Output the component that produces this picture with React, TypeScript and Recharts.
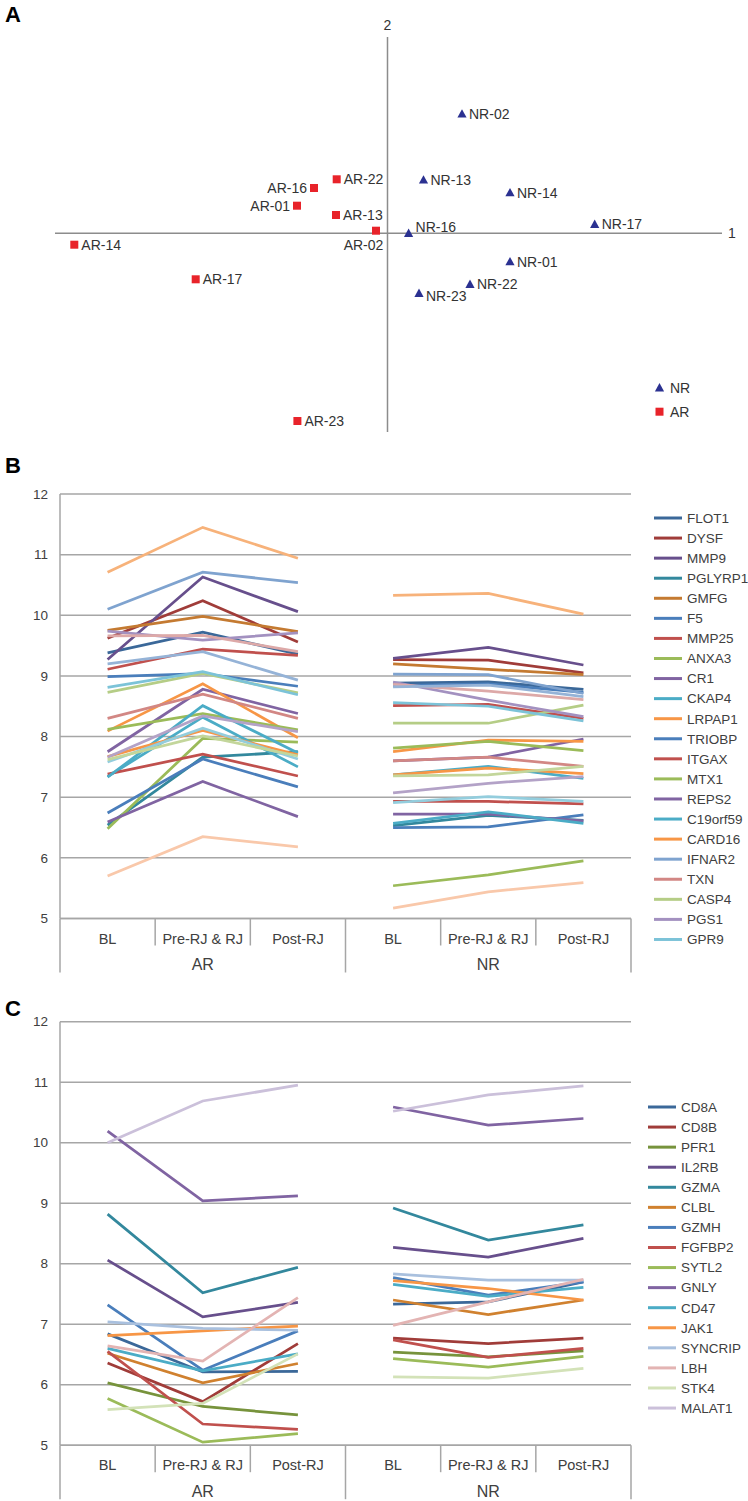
import React from 'react';
import {
  ScatterChart, Scatter, XAxis, YAxis, ReferenceLine, Legend,
  LineChart, Line, CartesianGrid,
} from 'recharts';

const FONT = '"Liberation Sans", Arial, Helvetica, sans-serif';

// ---------- Panel A data (PCA-like scores, dimension 1 / dimension 2) ----------
const nrNames = ['NR-02', 'NR-13', 'NR-14', 'NR-17', 'NR-16', 'NR-01', 'NR-22', 'NR-23'];
const nrDim1 = [0.745, 0.36, 1.225, 2.072, 0.211, 1.225, 0.825, 0.315];
const nrDim2 = [1.193, 0.533, 0.406, 0.09, 0.0, -0.284, -0.51, -0.6];
const arNames = ['AR-22', 'AR-16', 'AR-01', 'AR-13', 'AR-02', 'AR-14', 'AR-17', 'AR-23'];
const arDim1 = [-0.508, -0.735, -0.905, -0.515, -0.115, -3.132, -1.918, -0.901];
const arDim2 = [0.54, 0.453, 0.276, 0.183, 0.026, -0.114, -0.46, -1.877];

// ---------- Panels B & C shared categories ----------
const timeLabels = ['BL', 'Pre-RJ & RJ', 'Post-RJ'];
const groupLabels = ['AR', 'NR'];
const yTicks = [5, 6, 7, 8, 9, 10, 11, 12];

// ---------- Panel B data ----------
const bGenes = ['FLOT1', 'DYSF', 'MMP9', 'PGLYRP1', 'GMFG', 'F5', 'MMP25', 'ANXA3', 'CR1', 'CKAP4', 'LRPAP1',
  'TRIOBP', 'ITGAX', 'MTX1', 'REPS2', 'C19orf59', 'CARD16', 'IFNAR2', 'TXN', 'CASP4', 'PGS1', 'GPR9'];
const bExtra = ['S23', 'S24', 'S25', 'S26', 'S27', 'S28', 'S29'];
const bAR = [
  [9.38, 9.72, 9.36], [9.62, 10.24, 9.56], [9.27, 10.63, 10.06], [6.54, 7.66, 7.75], [9.75, 9.98, 9.73],
  [8.99, 9.04, 8.83], [9.11, 9.44, 9.34], [6.48, 7.97, 7.91], [7.75, 8.78, 8.38], [7.34, 8.32, 7.5],
  [8.09, 8.87, 7.98], [6.74, 7.63, 7.17], [7.38, 7.71, 7.35], [8.12, 8.38, 8.11], [6.59, 7.26, 6.68],
  [7.33, 8.51, 7.73], [7.67, 8.1, 7.7], [10.1, 10.71, 10.54], [8.3, 8.7, 8.3], [8.73, 9.04, 8.72],
  [9.74, 9.59, 9.71], [8.81, 9.07, 8.69],
];
const bNR = [
  [8.88, 8.9, 8.78], [9.27, 9.26, 9.05], [9.29, 9.47, 9.18], [6.53, 6.7, 6.62], [9.2, 9.11, 9.02],
  [8.84, 8.87, 8.73], [8.51, 8.53, 8.3], [5.54, 5.72, 5.95], [7.6, 7.66, 7.96], [7.37, 7.51, 7.31],
  [7.75, 7.94, 7.92], [6.5, 6.51, 6.71], [6.93, 6.93, 6.89], [7.81, 7.92, 7.77], [6.72, 6.72, 6.61],
  [6.57, 6.76, 6.57], [7.37, 7.48, 7.39], [9.03, 9.02, 8.71], [7.6, 7.66, 7.51], [8.22, 8.22, 8.52],
  [8.9, 8.6, 8.33], [8.56, 8.5, 8.26],
];
const bExtraAR = [
  [10.71, 11.45, 10.94], [9.66, 9.67, 9.4], [9.2, 9.4, 8.93], [7.66, 8.34, 8.08],
  [7.58, 8.14, 7.63], [7.62, 8.01, 7.68], [5.7, 6.35, 6.18],
];
const bExtraNR = [
  [10.33, 10.36, 10.02], [8.86, 8.75, 8.61], [8.82, 8.85, 8.66], [7.07, 7.23, 7.34],
  [6.91, 7.01, 6.93], [7.35, 7.37, 7.51], [5.17, 5.44, 5.59],
];

// ---------- Panel C data ----------
const cGenes = ['CD8A', 'CD8B', 'PFR1', 'IL2RB', 'GZMA', 'CLBL', 'GZMH', 'FGFBP2', 'SYTL2', 'GNLY', 'CD47',
  'JAK1', 'SYNCRIP', 'LBH', 'STK4', 'MALAT1'];
const cAR = [
  [6.84, 6.21, 6.22], [6.36, 5.72, 6.68], [6.03, 5.64, 5.5], [8.06, 7.12, 7.36], [8.82, 7.52, 7.94],
  [6.52, 6.03, 6.35], [7.32, 6.24, 6.89], [6.55, 5.35, 5.26], [5.77, 5.05, 5.19], [10.19, 9.04, 9.12],
  [6.6, 6.23, 6.51], [6.81, 6.89, 6.97], [7.04, 6.93, 6.9], [6.64, 6.39, 7.44], [5.59, 5.69, 6.51],
  [10.0, 10.69, 10.95],
];
const cNR = [
  [7.33, 7.37, 7.7], [6.77, 6.68, 6.77], [6.54, 6.46, 6.56], [8.27, 8.11, 8.42], [8.92, 8.39, 8.64],
  [7.4, 7.16, 7.4], [7.77, 7.48, 7.7], [6.74, 6.45, 6.6], [6.43, 6.29, 6.47], [10.59, 10.29, 10.4],
  [7.66, 7.46, 7.61], [7.72, 7.59, 7.4], [7.83, 7.73, 7.73], [6.98, 7.37, 7.74], [6.13, 6.11, 6.27],
  [10.52, 10.79, 10.94],
];

// ---------- styles ----------
const bColors = ['#3B6899', '#A03C39', '#674F8C', '#33889D', '#C47A31', '#4A7EBB', '#C0504D', '#9BBB59',
  '#8064A2', '#4BACC6', '#F79646', '#4A7EBB', '#C0504D', '#9BBB59', '#8064A2', '#4BACC6', '#F79646',
  '#7FA3CF', '#D28784', '#B5CD86', '#A391C0', '#7CC3D8'];
const bExtraColors = ['#F7B27A', '#DDA9A8', '#95B3D7', '#B3A2C7', '#93CDDD', '#C3D69B', '#F9C8AA'];
const cColors = ['#3B6899', '#A03C39', '#77933C', '#674F8C', '#33889D', '#D0812F', '#4A7EBB', '#C0504D',
  '#9BBB59', '#8064A2', '#4BACC6', '#F79646', '#A9C0DE', '#E3B4B3', '#D3E2B8', '#CBC0DA'];

const GRID = '#A6A6A6';
const TEXT = '#404040';
const labelLeft = ['AR-16', 'AR-01'];
const labelBelow = ['AR-02'];
const labelShiftY: Record<string, number> = { 'NR-16': -6, 'NR-23': 3 };

function buildRows(ar: number[][], nr: number[][], names: string[]) {
  const rows: any[] = [];
  for (let i = 0; i < 6; i++) {
    const row: any = { x: i };
    names.forEach((n, k) => {
      row[n + '|AR'] = i < 3 ? ar[k][i] : null;
      row[n + '|NR'] = i >= 3 ? nr[k][i - 3] : null;
    });
    rows.push(row);
  }
  return rows;
}

const PointLabel = ({ cx, cy, name }: { cx: number; cy: number; name: string }) => {
  const style = { fontSize: 14, fill: '#333', fontFamily: FONT };
  if (labelLeft.includes(name)) {
    return <text x={cx - 7} y={cy} dy="0.36em" textAnchor="end" style={style}>{name}</text>;
  }
  if (labelBelow.includes(name)) {
    return <text x={cx - 12.5} y={cy + 14} dy="0.36em" textAnchor="middle" style={style}>{name}</text>;
  }
  return <text x={cx + 7} y={cy + (labelShiftY[name] || 0)} dy="0.36em" textAnchor="start" style={style}>{name}</text>;
};

const SquareShape = (props: any) => {
  const { cx, cy, payload } = props;
  return (
    <g>
      <rect x={cx - 4} y={cy - 4} width={8} height={8} fill="#E8232A" />
      <PointLabel cx={cx} cy={cy} name={payload.name} />
    </g>
  );
};
const TriangleShape = (props: any) => {
  const { cx, cy, payload } = props;
  return (
    <g>
      <polygon points={`${cx},${cy - 4.8} ${cx + 4.6},${cy + 3.6} ${cx - 4.6},${cy + 3.6}`} fill="#2B3191" />
      <PointLabel cx={cx} cy={cy} name={payload.name} />
    </g>
  );
};

const PanelA = () => {
  const nrData = nrNames.map((n, i) => ({ name: n, x: nrDim1[i], y: nrDim2[i] }));
  const arData = arNames.map((n, i) => ({ name: n, x: arDim1[i], y: arDim2[i] }));
  return (
    <ScatterChart width={748} height={460} margin={{ top: 37, right: 26, bottom: 28, left: 55 }}>
      <XAxis type="number" dataKey="x" domain={[-3.325, 3.345]} hide />
      <YAxis type="number" dataKey="y" domain={[-1.987, 1.963]} hide />
      <ReferenceLine y={0} stroke="#8C8C8C" strokeWidth={1.5}
        label={{ value: '1', position: 'right', offset: 6, fill: '#333', fontSize: 14, fontFamily: FONT }} />
      <ReferenceLine x={0} stroke="#8C8C8C" strokeWidth={1.5}
        label={{ value: '2', position: 'top', offset: 7, fill: '#333', fontSize: 14, fontFamily: FONT }} />
      <Scatter name="NR" data={nrData} shape={<TriangleShape />} isAnimationActive={false} />
      <Scatter name="AR" data={arData} shape={<SquareShape />} isAnimationActive={false} />
      <Legend layout="vertical" align="center" verticalAlign="middle"
        wrapperStyle={{ left: 650, top: 378, width: 60, height: 44 }}
        content={() => (
          <svg width={60} height={44} style={{ display: 'block' }}>
            <polygon points="9.5,5 14.1,13.4 4.9,13.4" fill="#2B3191" />
            <text x={20} y={9.7} dy="0.36em" style={{ fontSize: 14, fill: '#333', fontFamily: FONT }}>NR</text>
            <rect x={5.5} y={29.7} width={8} height={8} fill="#E8232A" />
            <text x={20} y={33.7} dy="0.36em" style={{ fontSize: 14, fill: '#333', fontFamily: FONT }}>AR</text>
          </svg>
        )} />
    </ScatterChart>
  );
};

const makeCatTick = (bw: number) => (props: any) => {
  const { x, y, payload } = props;
  const i = Number(payload.value);
  const stroke = { stroke: GRID, strokeWidth: 1.5 };
  const lines: any[] = [];
  const leftLen = i % 3 === 0 ? 54 : 27;
  lines.push(<line key="l" x1={x - bw / 2} x2={x - bw / 2} y1={y} y2={y + leftLen} {...stroke} />);
  if (i === 5) lines.push(<line key="r" x1={x + bw / 2} x2={x + bw / 2} y1={y} y2={y + 54} {...stroke} />);
  return (
    <g>
      {lines}
      <text x={x} y={y + 20} dy="0.36em" textAnchor="middle" style={{ fontSize: 14.5, fill: TEXT, fontFamily: FONT }}>
        {timeLabels[i % 3]}
      </text>
      {i % 3 === 1 && (
        <text x={x} y={y + 46} dy="0.36em" textAnchor="middle" style={{ fontSize: 16, fill: TEXT, fontFamily: FONT }}>
          {groupLabels[Math.floor(i / 3)]}
        </text>
      )}
    </g>
  );
};

type LegendItem = { name: string; color: string };

const GeneLegend = ({ items, fontSize, step }: { items: LegendItem[]; fontSize: number; step: number }) => (
  <svg width={100} height={items.length * step + 4} style={{ display: 'block' }}>
    {items.map((it, i) => {
      const cy = 10 + i * step;
      return (
        <g key={it.name}>
          <line x1={0} x2={28} y1={cy} y2={cy} stroke={it.color} strokeWidth={3} />
          <text x={33} y={cy} dy="0.36em" style={{ fontSize, fill: TEXT, fontFamily: FONT }}>{it.name}</text>
        </g>
      );
    })}
  </svg>
);

const GenePanel = ({ names, colors, ar, nr, legendNames, height, marginTop, marginBottom, xHeight, legendLeft, legendTop, legendFont, legendStep }: any) => {
  const rows = buildRows(ar, nr, names);
  const plotLeft = 60;
  const plotRight = 631;
  const bw = (plotRight - plotLeft) / 6;
  const items: LegendItem[] = legendNames.map((n: string) => ({ name: n, color: colors[names.indexOf(n)] }));
  return (
    <LineChart width={748} height={height} data={rows}
      margin={{ top: marginTop, right: 748 - plotRight, bottom: marginBottom, left: 0 }}>
      <CartesianGrid horizontal vertical={false} stroke={GRID} strokeWidth={1.5} />
      <XAxis type="number" dataKey="x" domain={[-0.5, 5.5]} ticks={[0, 1, 2, 3, 4, 5]} interval={0}
        tickSize={0} tickMargin={0} tickLine={false} axisLine={{ stroke: GRID, strokeWidth: 1.5 }}
        height={xHeight} tick={makeCatTick(bw)} allowDataOverflow />
      <YAxis type="number" domain={[5, 12]} ticks={yTicks} interval={0} width={plotLeft}
        tickSize={0} tickMargin={12} tickLine={false} axisLine={{ stroke: GRID, strokeWidth: 1.5 }}
        tick={{ fontSize: 13.5, fill: TEXT, fontFamily: FONT }} allowDataOverflow />
      {names.map((n: string, k: number) => (
        <Line key={n + 'a'} dataKey={n + '|AR'} stroke={colors[k]} strokeWidth={2.75} dot={false}
          connectNulls={false} isAnimationActive={false} />
      ))}
      {names.map((n: string, k: number) => (
        <Line key={n + 'n'} dataKey={n + '|NR'} stroke={colors[k]} strokeWidth={2.75} dot={false}
          connectNulls={false} isAnimationActive={false} />
      ))}
      <Legend layout="vertical" align="center" verticalAlign="middle"
        wrapperStyle={{ left: legendLeft, top: legendTop, width: 100 }}
        content={() => <GeneLegend items={items} fontSize={legendFont} step={legendStep} />} />
    </LineChart>
  );
};

const panelLetter = (t: string, top: number) => (
  <div style={{ position: 'absolute', left: 5, top, fontSize: 22, fontWeight: 'bold', fontFamily: FONT, color: '#000', lineHeight: '22px' }}>{t}</div>
);

export default function App() {
  const bNames = [...bGenes, ...bExtra];
  const bColorAll = [...bColors, ...bExtraColors];
  const bARAll = [...bAR, ...bExtraAR];
  const bNRAll = [...bNR, ...bExtraNR];
  return (
    <div style={{ position: 'absolute', left: 0, top: 0, width: 748, height: 1501, background: '#fff', fontFamily: FONT, overflow: 'hidden' }}>
      {panelLetter('A', 4)}
      {panelLetter('B', 455)}
      {panelLetter('C', 998)}
      <div style={{ position: 'absolute', left: 0, top: 0 }}>
        <PanelA />
      </div>
      <div style={{ position: 'absolute', left: 0, top: 470 }}>
        <GenePanel names={bNames} colors={bColorAll} ar={bARAll} nr={bNRAll} legendNames={bGenes}
          height={530} marginTop={24} marginBottom={21.5} xHeight={60} legendLeft={654} legendTop={38}
          legendFont={13.5} legendStep={20.07} />
      </div>
      <div style={{ position: 'absolute', left: 0, top: 1000 }}>
        <GenePanel names={cGenes} colors={cColors} ar={cAR} nr={cNR} legendNames={cGenes}
          height={501} marginTop={21.7} marginBottom={0} xHeight={55.8} legendLeft={648} legendTop={97}
          legendFont={13.5} legendStep={20.07} />
      </div>
    </div>
  );
}
